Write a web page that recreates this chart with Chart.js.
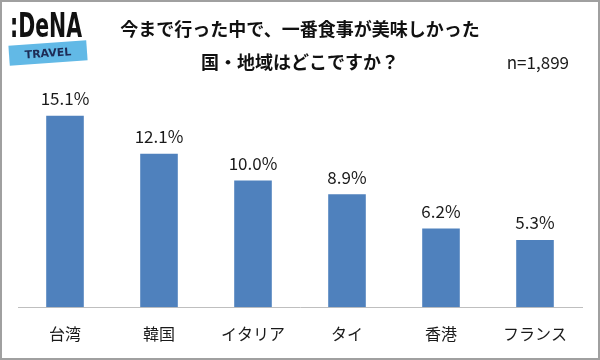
<!DOCTYPE html>
<html>
<head>
<meta charset="utf-8">
<script src="https://cdn.jsdelivr.net/npm/chart.js@4/dist/chart.umd.min.js"></script>
<style>
  html, body { margin: 0; padding: 0; background: #fff; }
  #wrap { width: 600px; height: 360px; }
</style>
</head>
<body>
<div id="wrap"><canvas id="c" width="600" height="360"></canvas></div>
<script>
const categories = ['台湾', '韓国', 'イタリア', 'タイ', '香港', 'フランス'];
const shares = [15.1, 12.1, 10.0, 8.9, 6.2, 5.3];
const titleLines = ['今まで行った中で、一番食事が美味しかった', '国・地域はどこですか？'];
const sampleNote = 'n=1,899';
const logoText = ':DeNA';
const logoSub = 'TRAVEL';

const FONT = '"Noto Sans CJK JP", "Noto Sans", sans-serif';

const decorPlugin = {
  id: 'decor',
  beforeDraw(chart) {
    const ctx = chart.ctx;
    ctx.save();
    ctx.fillStyle = '#ffffff';
    ctx.fillRect(0, 0, chart.width, chart.height);
    ctx.restore();
  },
  afterDatasetsDraw(chart) {
    const ctx = chart.ctx;
    const meta = chart.getDatasetMeta(0);
    ctx.save();
    ctx.font = '17px ' + FONT;
    ctx.fillStyle = '#1a1a1a';
    ctx.textAlign = 'center';
    ctx.textBaseline = 'middle';
    meta.data.forEach((bar, i) => {
      ctx.fillText(shares[i].toFixed(1) + '%', bar.x, bar.y - 17);
    });
    ctx.restore();
  },
  afterDraw(chart) {
    const ctx = chart.ctx;
    ctx.save();
    // sample size note
    ctx.font = '17px ' + FONT;
    ctx.fillStyle = '#1a1a1a';
    ctx.textAlign = 'right';
    ctx.textBaseline = 'middle';
    ctx.fillText(sampleNote, 569, 63);

    // logo
    ctx.save();
    ctx.fillStyle = '#111';
    ctx.textAlign = 'left';
    ctx.textBaseline = 'alphabetic';
    ctx.font = 'bold 33px "DejaVu Sans", sans-serif';
    const w = ctx.measureText(logoText).width;
    ctx.translate(10, 37);
    ctx.scale(72 / w, 1);
    ctx.fillText(logoText, 0, 0);
    ctx.restore();

    ctx.save();
    ctx.translate(48, 53);
    ctx.rotate(-4 * Math.PI / 180);
    ctx.fillStyle = '#62b9e6';
    ctx.fillRect(-39, -10, 78, 20);
    ctx.fillStyle = '#1d2b55';
    ctx.font = 'bold 11px "DejaVu Sans", sans-serif';
    ctx.textAlign = 'center';
    ctx.textBaseline = 'middle';
    ctx.fillText(logoSub, 0, 1);
    ctx.restore();

    // frame
    ctx.strokeStyle = '#a0a0a0';
    ctx.lineWidth = 2;
    ctx.strokeRect(1, 1, chart.width - 2, chart.height - 2);
    ctx.restore();
  }
};

new Chart(document.getElementById('c'), {
  type: 'bar',
  data: {
    labels: categories,
    datasets: [{
      data: shares,
      backgroundColor: '#4f81bd',
      borderWidth: 0,
      barPercentage: 0.4,
      categoryPercentage: 1.0
    }]
  },
  options: {
    responsive: false,
    animation: false,
    devicePixelRatio: 1,
    layout: { padding: { left: 18, right: 18, top: 0, bottom: 0 } },
    plugins: {
      legend: { display: false },
      tooltip: { enabled: false },
      title: {
        display: true,
        text: titleLines,
        color: '#111',
        font: { family: FONT, size: 18, weight: 'bold', lineHeight: 33 / 18 },
        padding: { top: 13, bottom: 0 }
      }
    },
    scales: {
      x: {
        grid: { display: false, drawTicks: false },
        border: { display: true, color: '#bfbfbf', width: 1 },
        ticks: { color: '#1a1a1a', font: { family: FONT, size: 16, lineHeight: 0.8 }, padding: 20 }
      },
      y: {
        display: false,
        min: 0,
        max: 18
      }
    }
  },
  plugins: [decorPlugin]
});
</script>
</body>
</html>
